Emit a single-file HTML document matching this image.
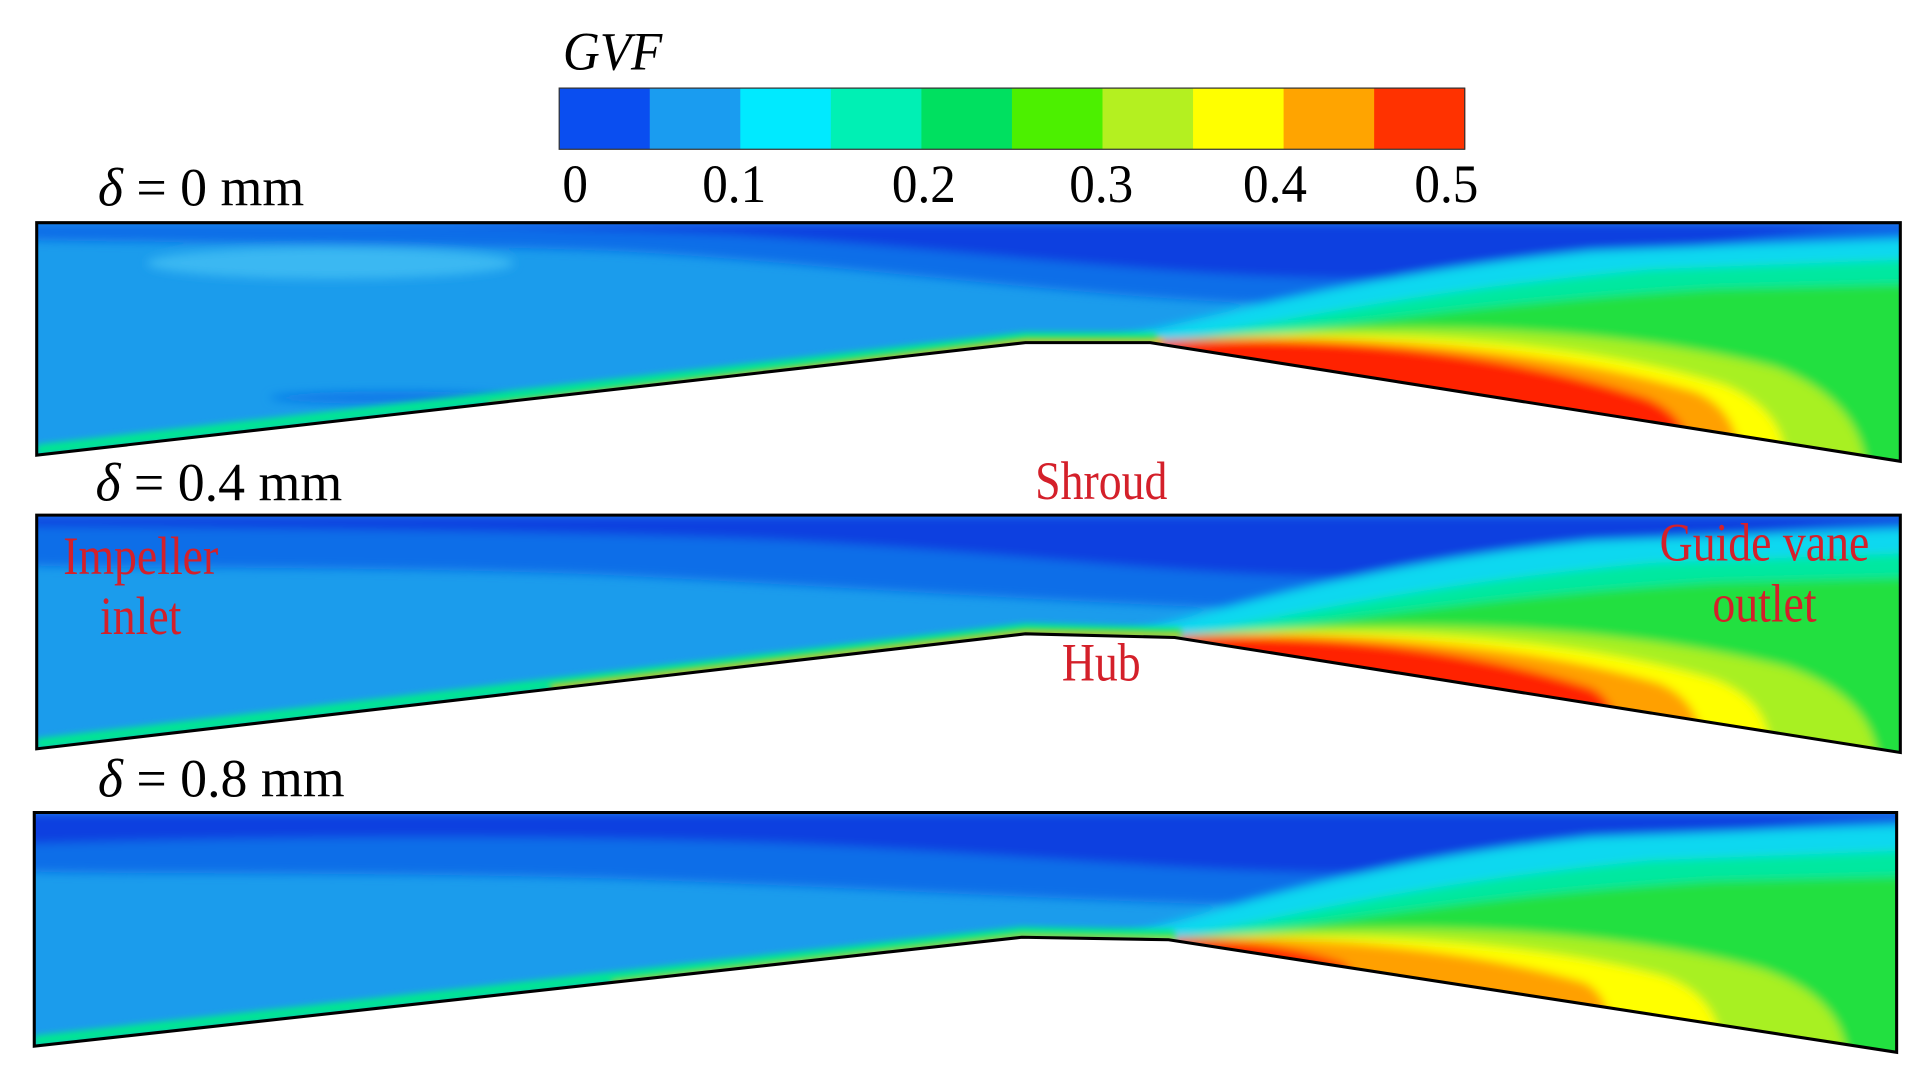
<!DOCTYPE html>
<html><head><meta charset="utf-8"><style>
html,body{margin:0;padding:0;background:#fff;width:1915px;height:1089px;overflow:hidden}
svg{display:block}
text{font-family:"Liberation Serif",serif}
</style></head><body>
<svg id="fig" width="1915" height="1089" viewBox="0 0 1565 890" preserveAspectRatio="none" xmlns="http://www.w3.org/2000/svg">
<defs>
<filter id="bl" x="-20%" y="-50%" width="140%" height="200%"><feGaussianBlur stdDeviation="4"/></filter>
<filter id="bs" x="-20%" y="-50%" width="140%" height="200%"><feGaussianBlur stdDeviation="2.5"/></filter>
<clipPath id="c1"><polygon points="30,182 1553,182 1553,377 940,280 838,280 30,372"/></clipPath>
<clipPath id="c2"><polygon points="30,421 1553,421 1553,615 960,521 838,518 30,612"/></clipPath>
<clipPath id="c3"><polygon points="28,664 1550,664 1550,860 955,768 835,766 28,855"/></clipPath>
</defs>

<text x="460" y="57" font-size="44" font-style="italic" transform="translate(460 0) scale(0.95 1) translate(-460 0)">GVF</text>
<g id="cbar"></g>

<!-- Panel 1 -->
<text x="80" y="168" font-size="44"><tspan font-style="italic">δ</tspan> = 0 mm</text>
<g clip-path="url(#c1)">
<rect x="20" y="170" width="1550" height="220" fill="#1b9cec"/>
<g filter="url(#bl)">
<ellipse cx="270" cy="215" rx="150" ry="13" fill="#3ab8f2"/>
<ellipse cx="320" cy="325" rx="100" ry="5" fill="#0f78e8"/>
<path d="M20,182 L1560,182 L1560,200 C1400,200 1300,250 1100,250 C900,248 700,215 500,205 C300,198 100,198 20,196 Z" fill="#0f6ee8"/>
<path d="M300,182 L1560,182 L1560,186 C1400,188 1300,228 1100,228 C950,226 800,205 600,192 C500,188 400,185 300,182 Z" fill="#0840e0"/>
<path d="M880,284 C980,262 1100,225 1300,205 L1560,195 L1560,390 L880,390 Z" fill="#10d8f0"/>
<path d="M930,284 C1030,266 1150,238 1350,220 L1560,212 L1560,390 L930,390 Z" fill="#00e8a0"/>
<path d="M960,285 C1060,270 1200,248 1400,236 L1560,232 L1560,390 L960,390 Z" fill="#20e040"/>
<path d="M950,281 C1100,262 1300,262 1450,300 C1500,318 1525,350 1525,390 L940,390 Z" fill="#a8f020"/>
<path d="M945,280 C1100,266 1290,277 1410,315 C1450,332 1465,360 1455,390 L940,390 Z" fill="#ffff00"/>
<path d="M942,279 C1100,270 1270,285 1385,320 C1415,332 1425,360 1420,390 L940,390 Z" fill="#ffa000"/>
<path d="M940,279 C1090,272 1240,290 1345,325 C1375,337 1385,360 1382,390 L940,390 Z" fill="#ff2200"/>
</g>
<polyline points="30,368 838,276 945,276" fill="none" stroke="#00e890" stroke-width="9" filter="url(#bs)"/>
<polyline points="400,332 838,279 950,279" fill="none" stroke="#ffc000" stroke-width="4" filter="url(#bs)"/>
</g>
<polygon points="30,182 1553,182 1553,377 940,280 838,280 30,372" fill="none" stroke="#000" stroke-width="2.5"/>

<!-- Panel 2 -->
<text x="78" y="409" font-size="44"><tspan font-style="italic">δ</tspan> = 0.4 mm</text>
<g clip-path="url(#c2)">
<rect x="20" y="410" width="1550" height="220" fill="#1b9cec"/>
<g filter="url(#bl)">
<path d="M20,421 L1560,421 L1560,440 C1400,440 1300,500 1100,500 C900,495 700,480 500,470 C300,462 100,465 20,462 Z" fill="#0f6ee8"/>
<path d="M20,421 L1560,421 L1560,428 C1400,428 1300,472 1100,472 C950,470 800,448 600,440 C400,433 200,432 20,430 Z" fill="#0840e0"/>
<path d="M900,522 C1000,500 1100,462 1300,442 L1560,432 L1560,630 L900,630 Z" fill="#10d8f0"/>
<path d="M950,522 C1050,505 1150,478 1350,460 L1560,452 L1560,630 L950,630 Z" fill="#00e8a0"/>
<path d="M975,523 C1080,510 1200,488 1400,476 L1560,472 L1560,630 L975,630 Z" fill="#20e040"/>
<path d="M970,521 C1120,505 1310,508 1460,545 C1510,562 1535,590 1535,630 L960,630 Z" fill="#a8f020"/>
<path d="M965,520 C1120,510 1290,522 1400,555 C1440,570 1450,595 1445,630 L960,630 Z" fill="#ffff00"/>
<path d="M962,520 C1110,514 1250,528 1355,558 C1385,570 1395,595 1390,630 L960,630 Z" fill="#ffa000"/>
<path d="M960,520 C1100,518 1210,533 1300,562 C1320,572 1325,595 1322,630 L960,630 Z" fill="#ff2200"/>
</g>
<polyline points="30,608 838,514 965,517" fill="none" stroke="#00e890" stroke-width="9" filter="url(#bs)"/>
<polyline points="450,562 838,517 965,519" fill="none" stroke="#ffc000" stroke-width="4" filter="url(#bs)"/>
</g>
<polygon points="30,421 1553,421 1553,615 960,521 838,518 30,612" fill="none" stroke="#000" stroke-width="2.5"/>

<!-- Panel 3 -->
<text x="80" y="651" font-size="44"><tspan font-style="italic">δ</tspan> = 0.8 mm</text>
<g clip-path="url(#c3)">
<rect x="20" y="655" width="1550" height="220" fill="#1b9cec"/>
<g filter="url(#bl)">
<path d="M20,664 L1560,664 L1560,680 C1400,682 1300,740 1100,742 C900,738 700,725 500,718 C300,712 100,715 20,712 Z" fill="#0f6ee8"/>
<path d="M20,664 L1560,664 L1560,670 C1400,670 1300,712 1100,714 C950,712 800,695 600,688 C400,682 200,684 20,690 Z" fill="#0840e0"/>
<path d="M900,769 C1000,745 1100,705 1300,684 L1560,674 L1560,875 L900,875 Z" fill="#10d8f0"/>
<path d="M950,769 C1050,750 1150,722 1350,703 L1560,695 L1560,875 L950,875 Z" fill="#00e8a0"/>
<path d="M975,770 C1080,755 1200,732 1400,720 L1560,716 L1560,875 L975,875 Z" fill="#20e040"/>
<path d="M965,768 C1120,752 1310,756 1440,792 C1490,810 1510,835 1510,875 L955,875 Z" fill="#a8f020"/>
<path d="M962,768 C1100,760 1260,770 1360,798 C1400,813 1410,840 1405,875 L955,875 Z" fill="#ffff00"/>
<path d="M960,767 C1090,764 1210,778 1295,803 C1315,813 1320,840 1317,875 L955,875 Z" fill="#ffa000"/>
<path d="M958,767 C1020,768 1070,776 1100,788 C1110,800 1110,830 1108,875 L955,875 Z" fill="#ff2200"/>
</g>
<polyline points="28,851 835,762 960,764" fill="none" stroke="#00e890" stroke-width="9" filter="url(#bs)"/>
<polyline points="500,803 835,765 960,767" fill="none" stroke="#ffd000" stroke-width="3" filter="url(#bs)"/>
</g>
<polygon points="28,664 1550,664 1550,860 955,768 835,766 28,855" fill="none" stroke="#000" stroke-width="2.5"/>

<!-- annotations -->
<g fill="#d4202a" font-size="44">
<text x="900" y="408" text-anchor="middle" transform="translate(900 0) scale(0.85 1) translate(-900 0)">Shroud</text>
<text x="900" y="556" text-anchor="middle" transform="translate(900 0) scale(0.85 1) translate(-900 0)">Hub</text>
<text x="115" y="469" text-anchor="middle" transform="translate(115 0) scale(0.85 1) translate(-115 0)">Impeller</text>
<text x="115" y="518" text-anchor="middle" transform="translate(115 0) scale(0.85 1) translate(-115 0)">inlet</text>
<text x="1442" y="458" text-anchor="middle" transform="translate(1442 0) scale(0.85 1) translate(-1442 0)">Guide vane</text>
<text x="1442" y="508" text-anchor="middle" transform="translate(1442 0) scale(0.85 1) translate(-1442 0)">outlet</text>
</g>
</svg>
<script>
const binColors = ["#0a4ef0","#1a9cf0","#00eaff","#00f0b4","#00e060","#4cf000","#b4f020","#ffff00","#ffa400","#ff3200"];
const tickValues = [0,0.1,0.2,0.3,0.4,0.5];
const tickLabels = ["0","0.1","0.2","0.3","0.4","0.5"];
const NS="http://www.w3.org/2000/svg";
const x0=457,x1=1197,yTop=72,yBot=122,vMax=0.5;
function xScale(v){return x0+(x1-x0)*v/vMax;}
const g=document.getElementById('cbar');
const bw=(x1-x0)/binColors.length;
binColors.forEach((c,i)=>{
  const r=document.createElementNS(NS,'rect');
  
  
  r.setAttribute('x',x0+i*bw);r.setAttribute('y',yTop);
  r.setAttribute('width',bw+0.5);r.setAttribute('height',yBot-yTop);
  r.setAttribute('fill',c);g.appendChild(r);
});
const fr=document.createElementNS(NS,'rect');


fr.setAttribute('x',x0);fr.setAttribute('y',yTop);fr.setAttribute('width',x1-x0);fr.setAttribute('height',yBot-yTop);
fr.setAttribute('fill','none');fr.setAttribute('stroke','#333');fr.setAttribute('stroke-width','1');
g.appendChild(fr);
const offs=[13,-5,2,-1,-7,-15];
tickValues.forEach((v,i)=>{
  const t=document.createElementNS(NS,'text');
  
  
  const x=xScale(v)+offs[i];
  t.setAttribute('x',x);t.setAttribute('y',165);
  t.setAttribute('font-size','44');t.setAttribute('text-anchor','middle');
  t.setAttribute('transform',`translate(${x} 0) scale(0.95 1) translate(${-x} 0)`);
  t.textContent=tickLabels[i];g.appendChild(t);
});
</script>
</body></html>
